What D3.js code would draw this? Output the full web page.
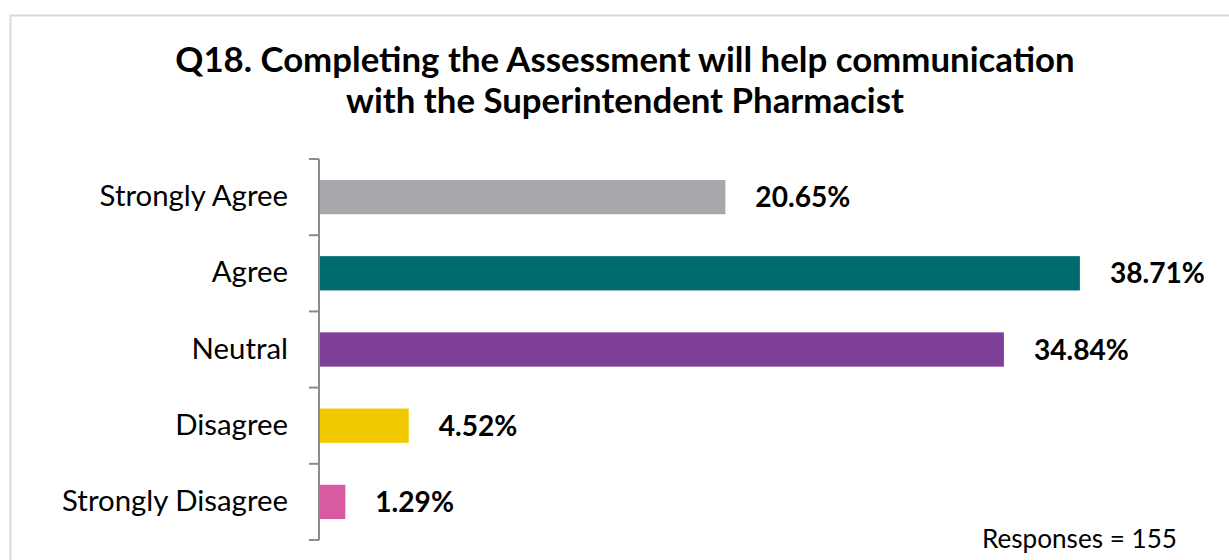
<!DOCTYPE html>
<html>
<head>
<meta charset="utf-8">
<script src="https://cdn.jsdelivr.net/npm/d3@7"></script>
<style>
  html, body { margin: 0; padding: 0; background: #fff; }
  svg { display: block; }
  text { font-family: Lato, "Open Sans", sans-serif; fill: #000; }
</style>
</head>
<body>
<svg id="chart" width="1229" height="560"></svg>
<script>
const categories = ["Strongly Agree", "Agree", "Neutral", "Disagree", "Strongly Disagree"];
const values = [20.65, 38.71, 34.84, 4.52, 1.29];
const colors = ["#a7a8ab", "#006b6e", "#7e3f98", "#f0c900", "#d85ba2"];
const titleLines = ["Q18. Completing the Assessment will help communication",
                    "with the Superintendent Pharmacist"];
const footnote = "Responses = 155";

const svg = d3.select("#chart");
const W = 1229, H = 560;

// pick a font size so that a sample string spans the wanted width
function fitSize(sample, weight, width) {
  const t = svg.append("text").style("font-weight", weight).style("font-size", "100px").text(sample);
  const w = t.node().getComputedTextLength();
  t.remove();
  return 100 * width / w;
}
const titleSize = fitSize(titleLines[0], "bold", 900);
const catSize = fitSize("Strongly Disagree", "normal", 226);
const valSize = fitSize("20.65%", "bold", 95);
const noteSize = fitSize(footnote, "normal", 195);

// chart frame
svg.append("rect")
  .attr("x", 10.5).attr("y", 15.5)
  .attr("width", W + 20).attr("height", H + 20)
  .attr("fill", "#fff").attr("stroke", "#d9d9d9").attr("stroke-width", 2);

// title
svg.append("g").selectAll("text")
  .data(titleLines).join("text")
  .attr("x", 625).attr("y", (d, i) => 72 + i * 41)
  .attr("text-anchor", "middle")
  .style("font-weight", "bold").style("font-size", titleSize + "px")
  .text(d => d);

const plotLeft = 319, plotTop = 159, plotBottom = 540;

const x = d3.scaleLinear().domain([0, 40]).range([plotLeft + 1, plotLeft + 1 + 40 * 19.63]);
const y = d3.scaleBand().domain(categories).range([plotTop, plotBottom]).paddingInner(0.55).paddingOuter(0.275);

// category axis with ticks at band boundaries
const axisG = svg.append("g").attr("transform", `translate(${plotLeft},0)`);
axisG.append("line")
  .attr("x1", 0).attr("x2", 0).attr("y1", plotTop).attr("y2", plotBottom)
  .attr("stroke", "#8c8c8c").attr("stroke-width", 2);
const step = (plotBottom - plotTop) / categories.length;
axisG.selectAll(".tick")
  .data(d3.range(categories.length + 1)).join("line")
  .attr("x1", -10).attr("x2", 0)
  .attr("y1", i => plotTop + i * step).attr("y2", i => plotTop + i * step)
  .attr("stroke", "#8c8c8c").attr("stroke-width", 2);

svg.append("g").selectAll("text")
  .data(categories).join("text")
  .attr("x", 288)
  .attr("y", d => y(d) + y.bandwidth() / 2 + 9)
  .attr("text-anchor", "end")
  .style("font-size", catSize + "px")
  .text(d => d);

// bars
svg.append("g").selectAll("rect")
  .data(values).join("rect")
  .attr("x", x(0))
  .attr("y", (d, i) => y(categories[i]))
  .attr("width", d => x(d) - x(0))
  .attr("height", y.bandwidth())
  .attr("fill", (d, i) => colors[i]);

// value labels
svg.append("g").selectAll("text")
  .data(values).join("text")
  .attr("x", d => x(d) + 30)
  .attr("y", (d, i) => y(categories[i]) + y.bandwidth() / 2 + 10)
  .style("font-weight", "bold").style("font-size", valSize + "px")
  .text(d => d.toFixed(2) + "%");

svg.append("text")
  .attr("x", 982).attr("y", 548)
  .style("font-size", noteSize + "px")
  .text(footnote);
</script>
</body>
</html>
